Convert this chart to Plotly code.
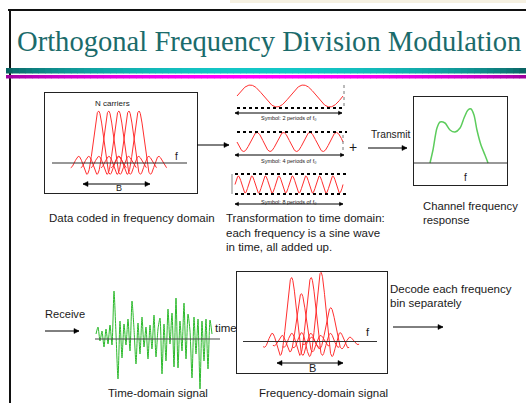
import numpy as np
import plotly.graph_objects as go

W, H = 526, 403

# ---------------- data ----------------
TITLE = "Orthogonal Frequency Division Modulation"
tx_carriers = [0, 1, 2, 3, 4]
tx_amplitudes = [1.0, 1.0, 1.0, 1.0, 1.0]
rx_carriers = [0, 1, 2, 3, 4]
rx_amplitudes = [1.23, 0.92, 1.23, 1.33, 0.65]
lobe_width = 0.8          # main-lobe half width, in carrier spacings
symbol_periods = [2, 4, 8]
symbol_phases = [0.0, np.pi, 0.0]
symbol_labels = ["Symbol: 2 periods of f\u2080",
                 "Symbol: 4 periods of f\u2080",
                 "Symbol: 8 periods of f\u2080"]
channel_freq = [0.172, 0.204, 0.247, 0.280, 0.333, 0.387, 0.441, 0.495,
                0.538, 0.581, 0.613, 0.645, 0.677, 0.720, 0.763, 0.796]
channel_gain = [0.0, 0.26, 0.70, 0.82, 0.80, 0.66, 0.62, 0.70,
                0.90, 1.06, 1.08, 0.96, 0.66, 0.36, 0.16, 0.0]
rx_signal = [5, 12, -2, 8, -8, 10, -5, 14, -6, 48, 5, -40, 18, -19, 15,
             -6, 20, -12, 38, 10, -25, 16, -15, 22, -8, 12, -20, 14, -10, 24,
             -18, 10, 21, -35, 15, -22, 30, -5, 26, -28, 41, -29, 18, -12, 36,
             -20, 25, 8, -39, 22, -15, 20, -50, 18, -22, 20, -30, 19, 5]
rx_time = list(range(len(rx_signal)))

RED = "#ff2f2f"
SANS = "Liberation Sans, Arial, sans-serif"

fig = go.Figure()
layout = dict(width=W, height=H, margin=dict(l=0, r=0, t=0, b=0),
              paper_bgcolor="white", plot_bgcolor="rgba(0,0,0,0)",
              showlegend=False)
shapes, annots = [], []


def P(x):
    return x / W


def Q(y):
    return 1 - y / H


def add_panel(i, box, ox, oy, sx, sy, frame=False):
    x0, y0, x1, y1 = box
    xr = [(x0 - ox) / sx, (x1 - ox) / sx]
    yr = [(oy - y1) / sy, (oy - y0) / sy]
    common = dict(showgrid=False, zeroline=False, showticklabels=False,
                  ticks="", fixedrange=True, showline=frame, mirror=frame,
                  linecolor="#222", linewidth=1)
    sfx = "" if i == 1 else str(i)
    layout["xaxis" + sfx] = dict(domain=[P(x0), P(x1)], range=xr,
                                 anchor="y" + sfx, **common)
    layout["yaxis" + sfx] = dict(domain=[Q(y1), Q(y0)], range=yr,
                                 anchor="x" + sfx, **common)
    return "x" + sfx, "y" + sfx


def text(x, y, s, size=11.5, anchor="left", color="#1a1a1a", family=SANS):
    annots.append(dict(x=P(x), y=Q(y), xref="paper", yref="paper", text=s,
                       showarrow=False, xanchor=anchor, yanchor="middle",
                       font=dict(size=size, color=color, family=family)))


def pline(x0, y0, x1, y1, color="black", width=1, dash="solid"):
    shapes.append(dict(type="line", xref="paper", yref="paper",
                       x0=P(x0), y0=Q(y0), x1=P(x1), y1=Q(y1),
                       line=dict(color=color, width=width, dash=dash)))


def head(x, y, direction, L, w):
    base = P(x - direction * L)
    path = "M %f,%f L %f,%f L %f,%f Z" % (P(x), Q(y), base, Q(y - w),
                                          base, Q(y + w))
    shapes.append(dict(type="path", xref="paper", yref="paper", path=path,
                       fillcolor="black", line=dict(color="black", width=0.5)))


def arrow(x0, y, x1, both=False, L=5, w=2.5, width=1):
    pline(x0, y, x1, y, width=width)
    head(x1, y, 1 if x1 > x0 else -1, L, w)
    if both:
        head(x0, y, -1 if x1 > x0 else 1, L, w)


def sinc_traces(xa, ya, carriers, amps, span=2.8):
    for c, a in zip(carriers, amps):
        f = np.linspace(c - span, c + span, 400)
        fig.add_trace(go.Scatter(x=f, y=a * np.sinc((f - c) / lobe_width),
                                 mode="lines", line=dict(color=RED, width=1),
                                 xaxis=xa, yaxis=ya, hoverinfo="skip"))


# ---------------- header ----------------
shapes.append(dict(type="rect", xref="paper", yref="paper", x0=P(230),
                   x1=1, y0=Q(3), y1=1, line=dict(width=0),
                   fillcolor="#f6f1e2"))
pline(8, 10, W, 10, color="#111", width=2)
pline(10, 10, 10, H, color="#111", width=2)
text(15, 42, TITLE, size=28.6, color="#1b6b6b",
     family="Liberation Serif, Times New Roman, serif")
n = 80
for k in range(n):
    t = (k + 0.5) / n
    f = np.sin(np.pi * t) ** 0.6
    teal = (int(10 + 10 * f), int(90 + 110 * f), int(90 + 110 * f))
    mag = (int(150 + 105 * f), 0, int(150 + 105 * f))
    xa, xb = 6 + (W - 6) * k / n, 6 + (W - 6) * (k + 1) / n + 0.5
    shapes.append(dict(type="rect", xref="paper", yref="paper", x0=P(xa),
                       x1=P(xb), y0=Q(73.5), y1=Q(68), line=dict(width=0),
                       fillcolor="rgb(%d,%d,%d)" % teal))
    shapes.append(dict(type="rect", xref="paper", yref="paper", x0=P(xa),
                       x1=P(xb), y0=Q(78.5), y1=Q(75), line=dict(width=0),
                       fillcolor="rgb(%d,%d,%d)" % mag))

# ---------------- panel A: transmitted carriers ----------------
xa, ya = add_panel(1, (45, 93, 197, 193), 98.5, 163, 10.1, 52, frame=True)
shapes.append(dict(type="line", xref=xa, yref=ya, x0=(52 - 98.5) / 10.1,
                   x1=(187 - 98.5) / 10.1, y0=0, y1=0,
                   line=dict(color="#333", width=1.2)))
sinc_traces(xa, ya, tx_carriers, tx_amplitudes, span=2.75)
text(112, 103, "N carriers", size=8, anchor="center")
text(176, 156, "f", size=10, anchor="center")
arrow(83, 184, 150, both=True, L=5, w=2.5)
text(119, 188, "B", size=9, anchor="center")
arrow(197, 145, 229, L=5, w=2.5)
text(47, 218, "Data coded in frequency domain")

# ---------------- sine symbols ----------------
sine_geo = [((234, 82, 346, 110), 237, 96, 106, 11),
            ((234, 130, 346, 154), 237, 142, 106, 9.5),
            ((232, 173, 346, 196), 235, 184.5, 108, 8.5)]
for j, (box, ox, oy, sx, sy) in enumerate(sine_geo):
    xs, ys = add_panel(2 + j, box, ox, oy, sx, sy)
    t = np.linspace(0, 1, 600)
    fig.add_trace(go.Scatter(
        x=t, y=np.sin(2 * np.pi * symbol_periods[j] * t + symbol_phases[j]),
        mode="lines", line=dict(color=RED, width=1), xaxis=xs, yaxis=ys,
        hoverinfo="skip"))
# dotted guide lines
pline(237, 108, 343, 108, width=2, dash="dot")
pline(344, 85, 344, 108, color="#777", width=1, dash="dot")
pline(237, 132, 347, 132, width=2, dash="dot")
pline(343, 135, 343, 152, color="#777", width=1, dash="dot")
pline(235, 174, 347, 174, width=2, dash="dot")
pline(235, 194, 347, 194, width=2, dash="dot")
pline(232, 174, 232, 194, color="#888", width=1)
# symbol arrows and labels
arrow(235, 113, 342, both=True, L=3.5, w=1.8)
text(288, 118.5, symbol_labels[0], size=5.5, anchor="center")
arrow(235, 155, 344, both=True, L=3.5, w=1.8)
text(288, 160.5, symbol_labels[1], size=5.5, anchor="center")
arrow(235, 204, 343, both=True, L=3.5, w=1.8)
text(288, 202, symbol_labels[2], size=5.5, anchor="center")
text(353, 147, "+", size=14, anchor="center")
text(224, 218, "Transformation to time domain:")
text(224, 233, "each frequency is a sine wave")
text(224, 247, "in time, all added up.")

# ---------------- transmit + channel ----------------
text(369, 135, "Transmit", size=10.2)
arrow(368, 148, 407, L=5, w=2.5)
xc, yc = add_panel(5, (414, 97, 507, 185), 414, 163, 93, 50, frame=True)
shapes.append(dict(type="line", xref=xc, yref=yc, x0=0, x1=1, y0=0, y1=0,
                   line=dict(color="#333", width=1.2)))
fig.add_trace(go.Scatter(x=channel_freq, y=channel_gain, mode="lines",
                         line=dict(color="#5ccc5c", width=1.5,
                                   shape="spline", smoothing=0.8),
                         xaxis=xc, yaxis=yc, hoverinfo="skip"))
text(465, 177, "f", size=10, anchor="center")
text(421, 206, "Channel frequency", size=11.3)
text(421, 220, "response", size=11.3)

# ---------------- receive: time domain ----------------
text(43, 314, "Receive", size=11.1)
arrow(45, 331, 79, L=5, w=2.5)
xt, yt = add_panel(6, (92, 282, 224, 396), 96, 339, 2, 1)
shapes.append(dict(type="line", xref=xt, yref=yt, x0=-0.5, x1=62,
                   y0=0, y1=0, line=dict(color="#444", width=1.2)))
fig.add_trace(go.Scatter(x=rx_time, y=rx_signal, mode="lines",
                         line=dict(color="#2dba2d", width=1,
                                   shape="spline", smoothing=0.6),
                         xaxis=xt, yaxis=yt, hoverinfo="skip"))
text(213, 328, "time")
text(106, 393, "Time-domain signal")

# ---------------- panel D: received carriers ----------------
xd, yd = add_panel(7, (237, 272, 387, 373), 291.5, 341.5, 9.8, 52,
                   frame=True)
shapes.append(dict(type="line", xref=xd, yref=yd, x0=(243 - 291.5) / 9.8,
                   x1=(377 - 291.5) / 9.8, y0=0, y1=0,
                   line=dict(color="#333", width=1.2)))
sinc_traces(xd, yd, rx_carriers, rx_amplitudes, span=2.9)
text(368, 332, "f", size=11, anchor="center")
arrow(277, 363, 343, both=True, L=5, w=2.5)
text(312, 368, "B", size=11, anchor="center")
text(257, 393, "Frequency-domain signal")
text(388, 289, "Decode each frequency")
text(388, 303, "bin separately")
arrow(393, 327, 443, L=5, w=2.5)

layout["shapes"] = shapes
layout["annotations"] = annots
fig.update_layout(**layout)
# the page's default body margin would push the figure 8px in and add
# scrollbars; remove it so the figure fills the window exactly.
fig.write_html("out.html", config={"displayModeBar": False},
               post_script="document.body.style.margin='0';"
                           "document.body.style.overflow='hidden';")
